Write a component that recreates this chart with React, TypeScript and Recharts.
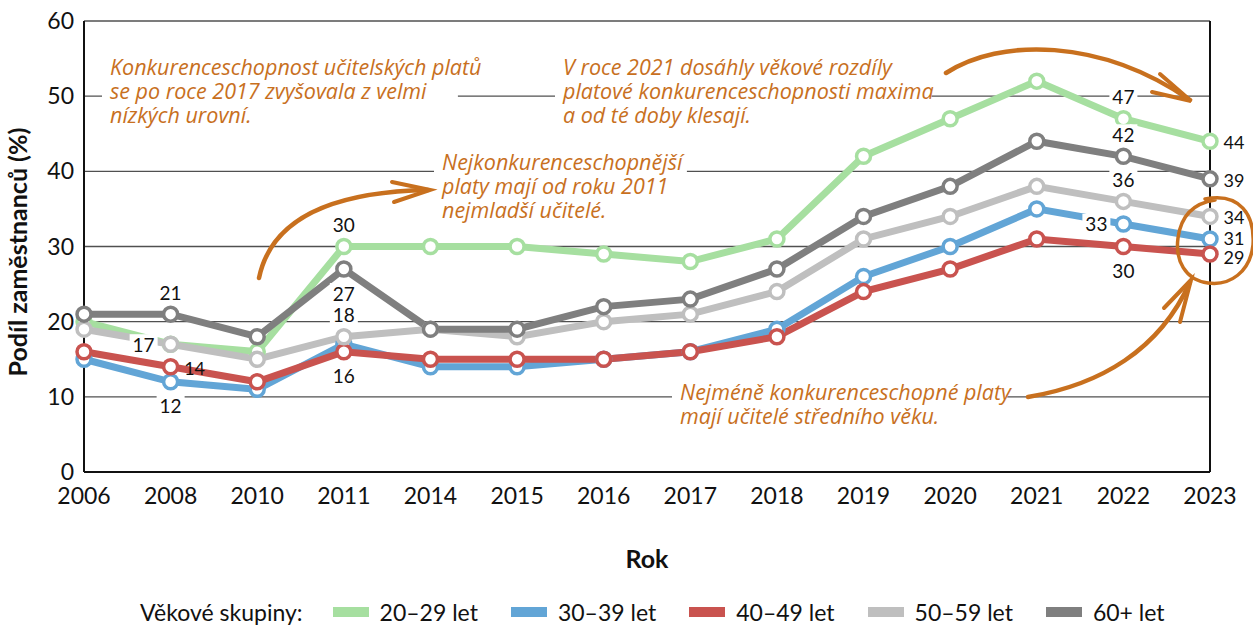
import { LineChart, Line, XAxis, YAxis, CartesianGrid, Legend, LabelList } from "recharts";

const YEARS = ["2006", "2008", "2010", "2011", "2014", "2015", "2016", "2017", "2018", "2019", "2020", "2021", "2022", "2023"];
const Y_TICKS = [0, 10, 20, 30, 40, 50, 60];

const AGE_20_29 = [20, 17, 16, 30, 30, 30, 29, 28, 31, 42, 47, 52, 47, 44];
const AGE_30_39 = [15, 12, 11, 17, 14, 14, 15, 16, 19, 26, 30, 35, 33, 31];
const AGE_40_49 = [16, 14, 12, 16, 15, 15, 15, 16, 18, 24, 27, 31, 30, 29];
const AGE_50_59 = [19, 17, 15, 18, 19, 18, 20, 21, 24, 31, 34, 38, 36, 34];
const AGE_60 = [21, 21, 18, 27, 19, 19, 22, 23, 27, 34, 38, 44, 42, 39];

const SERIES = [
  { key: "a20", name: "20–29 let", values: AGE_20_29, color: "#a6dfa0" },
  { key: "a30", name: "30–39 let", values: AGE_30_39, color: "#62a5d6" },
  { key: "a40", name: "40–49 let", values: AGE_40_49, color: "#c9534f" },
  { key: "a50", name: "50–59 let", values: AGE_50_59, color: "#bfbfbf" },
  { key: "a60", name: "60+ let", values: AGE_60, color: "#7f7f7f" },
];

// where the value labels sit, per series and year
const LABEL_POS: Record<string, Record<string, string>> = {
  a20: { "2011": "top", "2022": "top", "2023": "right" },
  a30: { "2008": "bottom", "2022": "left", "2023": "rightUp" },
  a40: { "2008": "right", "2011": "bottom", "2022": "bottom", "2023": "rightDown" },
  a50: { "2008": "left", "2011": "top", "2022": "top", "2023": "right" },
  a60: { "2008": "top", "2011": "bottom", "2022": "top", "2023": "right" },
};

const data = YEARS.map((year, i) => {
  const row: Record<string, any> = { year };
  SERIES.forEach((s) => (row[s.key] = s.values[i]));
  return row;
});

const FONT = "Lato, 'Open Sans', sans-serif";
const ORANGE = "#c8701e";

function makeLabel(seriesKey: string) {
  return (props: any) => {
    const { x, y, value, index } = props;
    const pos = LABEL_POS[seriesKey][YEARS[index]];
    if (!pos || x == null) return null;
    let cx = x, cy = y;
    const side = pos.startsWith("right");
    if (pos === "top") cy = y - 22;
    if (pos === "bottom") cy = y + 24;
    if (pos === "left") cx = x - 27;
    if (side) cx = x + 24;
    if (pos === "right") cy = y + 1;
    if (pos === "rightUp") cy = y - 1;
    if (pos === "rightDown") cy = y + 3;
    return (
      <g>
        {!side && <rect x={cx - 14} y={cy - 10} width={28} height={20} fill="#fff" />}
        <text x={cx} y={cy} textAnchor="middle" dominantBaseline="central" fontSize={side ? 18 : 19} fontFamily={FONT} fill="#111">
          {value}
        </text>
      </g>
    );
  };
}

function LegendBox({ payload }: any) {
  return (
    <div style={{ display: "flex", alignItems: "center", paddingLeft: 140, paddingTop: 26, fontFamily: FONT, fontSize: 23, color: "#111", whiteSpace: "nowrap" }}>
      <span style={{ marginRight: 30 }}>Věkové skupiny:</span>
      {(payload || []).map((p: any) => (
        <span key={p.value} style={{ display: "flex", alignItems: "center", marginRight: 33 }}>
          <span style={{ width: 36, height: 10, background: p.color, marginRight: 11, display: "inline-block" }} />
          {p.value}
        </span>
      ))}
    </div>
  );
}

function Note({ x, y, lines }: { x: number; y: number; lines: string[] }) {
  return (
    <g>
      {lines.map((l, i) => (
        <rect key={"r" + i} x={x - 8} y={y + i * 24 - 17} width={l.length * 10.3 + 16} height={22} fill="#fff" />
      ))}
      {lines.map((l, i) => (
        <text key={i} x={x} y={y + i * 24} fontSize={21.5} fontStyle="italic" fontFamily="'Open Sans', sans-serif" fill={ORANGE}>
          {l}
        </text>
      ))}
    </g>
  );
}

function Overlay() {
  const arrow = { fill: "none", stroke: ORANGE, strokeWidth: 4.5, strokeLinecap: "round" as const };
  return (
    <svg width={1253} height={628} style={{ position: "absolute", left: 0, top: 0, pointerEvents: "none" }}>
      <Note x={110} y={75} lines={["Konkurenceschopnost učitelských platů", "se po roce 2017 zvyšovala z velmi", "nízkých urovní."]} />
      <Note x={563} y={75} lines={["V roce 2021 dosáhly věkové rozdíly", "platové konkurenceschopnosti maxima", "a od té doby klesají."]} />
      <Note x={442} y={170} lines={["Nejkonkurenceschopnější", "platy mají od roku 2011", "nejmladší učitelé."]} />
      <Note x={680} y={400} lines={["Nejméně konkurenceschopné platy", "mají učitelé středního věku."]} />
      {/* arrow to 2011 note */}
      <path d="M259 278 C 270 225, 320 192, 428 190" {...arrow} />
      <path d="M392 182 L 430 190 L 394 202" {...arrow} strokeWidth={4} />
      {/* arrow over 2021 peak */}
      <path d="M946 73 C 1000 38, 1100 38, 1190 100" {...arrow} />
      <path d="M1160 74 L 1191 101 L 1152 92" {...arrow} strokeWidth={4} />
      {/* circle around 2023 */}
      <path d="M1205 199 C 1240 192, 1255 215, 1253 245 C 1250 272, 1230 286, 1208 283 C 1185 280, 1175 260, 1178 238 C 1181 215, 1195 203, 1215 200" {...arrow} strokeWidth={3.5} />
      {/* arrow to middle-aged */}
      <path d="M1028 397 C 1100 385, 1160 350, 1190 282" {...arrow} />
      <path d="M1164 308 L 1191 280 L 1180 322" {...arrow} strokeWidth={4} />
    </svg>
  );
}

export default function App() {
  return (
    <div style={{ position: "relative", width: 1253, height: 628, background: "#fff" }}>
      <style>{"body{margin:0}"}</style>
      <LineChart width={1253} height={628} data={data} margin={{ top: 21, right: 0, left: 0, bottom: 0 }}>
        <CartesianGrid vertical={false} stroke="#505050" strokeWidth={1.3} />
        <XAxis
          dataKey="year"
          height={100}
          tickLine={false}
          axisLine={{ stroke: "#111", strokeWidth: 2 }}
          tick={{ fontSize: 23, fontFamily: FONT, fill: "#111" }}
          tickMargin={10}
          interval={0}
          label={{ value: "Rok", position: "insideBottom", offset: 4, style: { fontSize: 25, fontWeight: 700, fontFamily: FONT, fill: "#111" } }}
        />
        <YAxis
          width={84}
          domain={[0, 60]}
          ticks={Y_TICKS}
          tickLine={false}
          axisLine={{ stroke: "#111", strokeWidth: 2 }}
          tick={{ fontSize: 23, fontFamily: FONT, fill: "#111" }}
          tickMargin={4}
          label={{ value: "Podíl zaměstnanců (%)", angle: -90, position: "insideLeft", offset: 8, dx: 10, dy: 130, style: { fontSize: 25, fontWeight: 700, fontFamily: FONT, fill: "#111" } }}
        />
        <YAxis yAxisId="r" orientation="right" width={43} domain={[0, 60]} tick={false} tickLine={false} axisLine={{ stroke: "#111", strokeWidth: 2 }} />
        <Legend verticalAlign="bottom" height={56} content={<LegendBox />} />
        {SERIES.map((s) => (
          <Line
            key={s.key}
            dataKey={s.key}
            name={s.name}
            stroke={s.color}
            strokeWidth={7}
            dot={{ r: 7, fill: "#fff", stroke: s.color, strokeWidth: 3.5 }}
            isAnimationActive={false}
          >
            <LabelList dataKey={s.key} content={makeLabel(s.key)} />
          </Line>
        ))}
      </LineChart>
      <Overlay />
    </div>
  );
}
